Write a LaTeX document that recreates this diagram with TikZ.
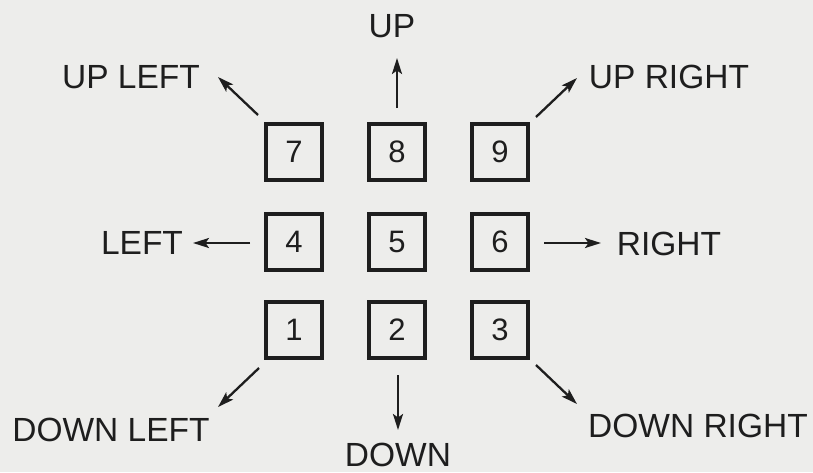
\documentclass[tikz,border=0pt]{standalone}
\usepackage{fontspec}
\setmainfont{Liberation Sans}
\usetikzlibrary{arrows.meta}
\definecolor{paper}{RGB}{237,237,235}
\definecolor{ink}{RGB}{30,30,30}
\tikzset{
  key/.style={draw=ink, line width=3.6pt, minimum size=56.5pt, inner sep=0pt,
    text=ink, font=\fontsize{31}{36}\selectfont},
  lab/.style={anchor=base, inner sep=0pt, text=ink, font=\fontsize{33.5}{40}\selectfont},
  arr/.style={draw=ink, line width=2.3pt, -{Stealth[length=16pt,width=10pt,inset=3.5pt]}}
}
\begin{document}
\begin{tikzpicture}[x=1pt,y=-1pt]
\fill[paper] (0,0) rectangle (813,472);
\useasboundingbox (0,0) rectangle (813,472);
% keys
\node[key] (k7) at (294,152) {7};
\node[key] (k8) at (397,152) {8};
\node[key] (k9) at (500,152) {9};
\node[key] (k4) at (294,242) {4};
\node[key] (k5) at (397,242) {5};
\node[key] (k6) at (500,242) {6};
\node[key] (k1) at (294,330) {1};
\node[key] (k2) at (397,330) {2};
\node[key] (k3) at (500,330) {3};
% labels
\node[lab] (up) at (392,37) {UP};
\node[lab] (ul) at (131,88) {UP LEFT};
\node[lab] (ur) at (669,88) {UP RIGHT};
\node[lab] (le) at (142,254) {LEFT};
\node[lab] (ri) at (669,255) {RIGHT};
\node[lab] (dl) at (111,441) {DOWN LEFT};
\node[lab] (dr) at (698,437) {DOWN RIGHT};
\node[lab] (dn) at (398,466) {DOWN};
% arrow ends
\coordinate (tUp) at (397,108); \coordinate (hUp) at (397,58);
\coordinate (tUL) at (258,115); \coordinate (hUL) at (218,77);
\coordinate (tUR) at (536,117); \coordinate (hUR) at (577,78);
\coordinate (tL) at (250,243);  \coordinate (hL) at (193,243);
\coordinate (tR) at (544,243);  \coordinate (hR) at (601,243);
\coordinate (tDL) at (259,368); \coordinate (hDL) at (218,407);
\coordinate (tD) at (398,375);  \coordinate (hD) at (398,430);
\coordinate (tDR) at (536,365); \coordinate (hDR) at (577,404);
\draw[arr] (tUp) -- (hUp);
\draw[arr] (tUL) -- (hUL);
\draw[arr] (tUR) -- (hUR);
\draw[arr] (tL) -- (hL);
\draw[arr] (tR) -- (hR);
\draw[arr] (tDL) -- (hDL);
\draw[arr] (tD) -- (hD);
\draw[arr] (tDR) -- (hDR);
\end{tikzpicture}
\end{document}
